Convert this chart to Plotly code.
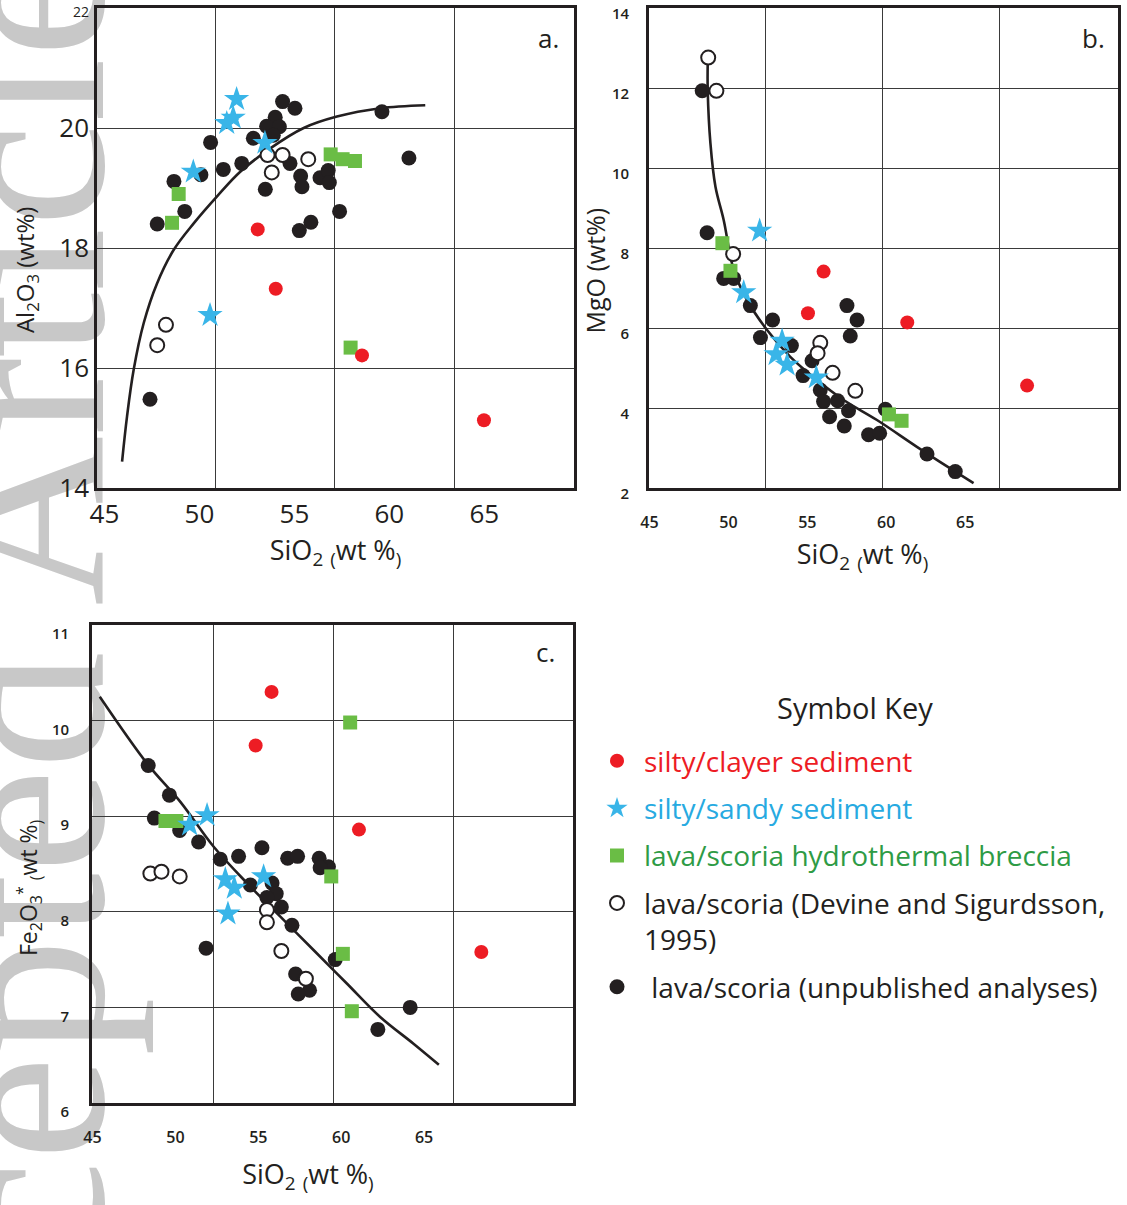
import plotly.graph_objects as go

W, H = 1127, 1205

# ---------------- data: panel a (Al2O3 vs SiO2) ----------------
a_red_x = [53.07, 54.02, 58.56, 64.98]
a_red_y = [18.31, 17.32, 16.21, 15.13]
a_blue_x = [51.96, 51.78, 51.44, 53.45, 49.68, 50.56]
a_blue_y = [20.48, 20.17, 20.08, 19.75, 19.27, 16.88]
a_green_x = [56.91, 57.54, 58.19, 48.91, 48.56, 57.96]
a_green_y = [19.56, 19.48, 19.45, 18.90, 18.42, 16.34]
a_open_x = [53.59, 54.38, 55.73, 53.81, 48.24, 47.78]
a_open_y = [19.55, 19.55, 19.48, 19.26, 16.72, 16.38]
a_black_x = [54.38, 55.03, 59.61, 53.99, 53.54, 54.21, 53.89, 52.84, 50.59, 61.03,
             52.23, 54.77, 51.26, 50.08, 48.66, 55.33, 56.35, 56.78, 56.84, 55.40,
             53.47, 49.23, 47.78, 57.38, 55.87, 55.26, 47.40]
a_black_y = [20.44, 20.33, 20.27, 20.18, 20.03, 20.02, 19.88, 19.83, 19.76, 19.50,
             19.41, 19.41, 19.31, 19.22, 19.11, 19.20, 19.17, 19.29, 19.09, 19.02,
             18.98, 18.61, 18.40, 18.61, 18.43, 18.29, 15.48]
a_curve_x = [45.93, 46.19, 46.54, 47.07, 47.77, 48.65, 49.70, 50.93, 52.15, 53.73,
             55.49, 57.24, 59.52, 61.89]
a_curve_y = [14.44, 15.19, 15.97, 16.75, 17.41, 17.97, 18.41, 18.86, 19.27, 19.66,
             20.00, 20.19, 20.33, 20.38]

# ---------------- data: panel b (MgO vs SiO2) ----------------
b_red_x = [56.03, 55.04, 61.33, 68.92]
b_red_y = [7.41, 6.37, 6.14, 4.56]
b_blue_x = [51.98, 50.97, 53.40, 53.02, 53.72, 55.57]
b_blue_y = [8.43, 6.89, 5.68, 5.34, 5.08, 4.76]
b_green_x = [49.62, 50.13, 60.17, 60.97]
b_green_y = [8.12, 7.43, 3.84, 3.68]
b_open_x = [48.72, 49.24, 50.30, 55.82, 55.65, 56.60, 58.04]
b_open_y = [12.76, 11.93, 7.85, 5.63, 5.37, 4.88, 4.43]
b_black_x = [48.34, 48.65, 49.70, 50.34, 51.39, 52.80, 52.03, 53.99, 57.51, 58.15,
             57.72, 55.30, 54.73, 55.82, 56.03, 56.92, 57.61, 56.41, 57.34, 58.88,
             59.58, 59.94, 62.58, 64.37]
b_black_y = [11.93, 8.38, 7.24, 7.24, 6.56, 6.20, 5.76, 5.56, 6.56, 6.20,
             5.80, 5.18, 4.81, 4.45, 4.16, 4.18, 3.93, 3.78, 3.55, 3.33,
             3.37, 3.97, 2.85, 2.41]
b_curve_x = [48.69, 48.69, 48.86, 49.18, 49.70, 50.34, 51.18, 52.45, 53.92, 55.61,
             57.30, 59.41, 61.94, 64.05, 65.53]
b_curve_y = [12.62, 11.93, 10.62, 9.53, 8.70, 7.45, 6.70, 5.95, 5.28, 4.70,
             4.20, 3.70, 3.03, 2.49, 2.12]

# ---------------- data: panel c (Fe2O3* vs SiO2) ----------------
c_red_x = [55.80, 54.84, 61.07, 68.45]
c_red_y = [10.30, 9.74, 8.86, 7.58]
c_blue_x = [51.91, 50.86, 53.01, 53.55, 55.32, 53.17]
c_blue_y = [9.01, 8.91, 8.34, 8.25, 8.37, 7.98]
c_green_x = [49.40, 50.06, 60.54, 59.40, 60.10, 60.64]
c_green_y = [8.95, 8.95, 9.98, 8.37, 7.56, 6.96]
c_open_x = [48.49, 49.16, 50.26, 55.52, 55.52, 56.39, 57.87]
c_open_y = [8.40, 8.42, 8.37, 8.02, 7.89, 7.59, 7.30]
c_black_x = [48.36, 49.64, 48.73, 50.26, 51.40, 52.71, 53.81, 55.22, 56.77, 57.37,
             58.67, 59.23, 58.73, 54.52, 55.83, 56.08, 55.52, 56.39, 57.03, 51.85,
             59.64, 57.25, 58.09, 57.41, 64.16, 62.21]
c_black_y = [9.53, 9.22, 8.98, 8.85, 8.73, 8.55, 8.58, 8.67, 8.56, 8.58,
             8.56, 8.47, 8.46, 8.28, 8.30, 8.19, 8.15, 8.05, 7.86, 7.62,
             7.50, 7.35, 7.18, 7.14, 7.00, 6.77]
c_curve_x = [45.44, 48.30, 50.30, 52.31, 54.32, 56.33, 58.33, 60.34, 62.35, 64.36, 65.89]
c_curve_y = [10.25, 9.55, 9.15, 8.68, 8.30, 7.95, 7.60, 7.25, 6.90, 6.62, 6.40]

# ---------------- tick labels / grid ----------------
x_tickvals = [45, 50, 55, 60, 65]
x_ticktext = ["45", "50", "55", "60", "65"]
a_ytickvals = [14, 16, 18, 20, 22]
a_yticktext = ["14", "16", "18", "20", "<span style='font-size:14px'>22</span>"]
b_ytickvals = [2, 4, 6, 8, 10, 12, 14]
c_ytickvals = [6, 7, 8, 9, 10, 11]
a_xgrid = [50.87, 57.13, 63.45]
b_xgrid = [52.34, 59.75, 67.15]
c_xgrid = [52.29, 59.52, 66.75]

series_names = [
    "<span style='color:#ed1c24'>silty/clayer sediment</span>",
    "<span style='color:#27aae1'>silty/sandy sediment</span>",
    "<span style='color:#2e9b45'>lava/scoria hydrothermal breccia</span>",
    "lava/scoria (Devine and Sigurdsson,<br>1995)",
    " lava/scoria (unpublished analyses)",
]

FONT = "Open Sans"
INK = "#231f20"
RED, BLUE, GREEN = "#ed1c24", "#39b5e8", "#6abd45"


def pad(n):
    # invisible trailing padding so the centred title sits where the reference has it
    return "\u00a0" * n + "\u200b"


styles = {
    "black": dict(symbol="circle", size=15, color=INK),
    "open": dict(symbol="circle", size=14, color="white", line=dict(color=INK, width=2)),
    "green": dict(symbol="square", size=14, color=GREEN),
    "blue": dict(symbol="star", size=19, color=BLUE),
    "red": dict(symbol="circle", size=14, color=RED),
}
names = {"red": series_names[0], "blue": series_names[1], "green": series_names[2],
         "open": series_names[3], "black": series_names[4]}
ranks = {"red": 1, "blue": 2, "green": 3, "open": 4, "black": 5}

panels = {
    "a": (dict(black=(a_black_x, a_black_y), open=(a_open_x, a_open_y), green=(a_green_x, a_green_y),
               blue=(a_blue_x, a_blue_y), red=(a_red_x, a_red_y)), (a_curve_x, a_curve_y), "x", "y"),
    "b": (dict(black=(b_black_x, b_black_y), open=(b_open_x, b_open_y), green=(b_green_x, b_green_y),
               blue=(b_blue_x, b_blue_y), red=(b_red_x, b_red_y)), (b_curve_x, b_curve_y), "x2", "y2"),
    "c": (dict(black=(c_black_x, c_black_y), open=(c_open_x, c_open_y), green=(c_green_x, c_green_y),
               blue=(c_blue_x, c_blue_y), red=(c_red_x, c_red_y)), (c_curve_x, c_curve_y), "x3", "y3"),
}

fig = go.Figure()
for key, (series, curve, xa, ya) in panels.items():
    fig.add_trace(go.Scatter(x=curve[0], y=curve[1], mode="lines",
                             line=dict(color=INK, width=2.6, shape="spline", smoothing=1.0),
                             xaxis=xa, yaxis=ya, showlegend=False, hoverinfo="skip"))
for key, (series, curve, xa, ya) in panels.items():
    for s in ["black", "open", "green", "blue", "red"]:
        xs, ys = series[s]
        fig.add_trace(go.Scatter(x=xs, y=ys, mode="markers", marker=styles[s],
                                 name=names[s], legendgroup=s, legendrank=ranks[s],
                                 showlegend=(key == "a"), xaxis=xa, yaxis=ya))


def fx(px):
    return px / W


def fy(py):
    return 1 - py / H


frame = dict(showline=True, mirror=True, linecolor=INK, linewidth=2.6, ticks="", zeroline=False,
             automargin=False, fixedrange=True)

SIO2 = "SiO<sub>2</sub> <sub>(</sub>wt %<sub>)</sub>"


def xaxis(dom, rng, gridvals, size, standoff, anchor, title_standoff, npad=0, weight=400):
    return dict(domain=dom, range=rng, tickmode="array", tickvals=x_tickvals, ticktext=x_ticktext,
                showgrid=False, anchor=anchor,
                minor=dict(tickmode="array", tickvals=gridvals, showgrid=True,
                           gridcolor="#3a3a3a", gridwidth=1.2, ticks=""),
                tickfont=dict(family=FONT, size=size, color=INK, weight=weight),
                ticklabelstandoff=standoff,
                title=dict(text=SIO2 + (pad(npad) if npad else ""),
                           font=dict(family=FONT, size=27, color=INK), standoff=title_standoff),
                **frame)


def yaxis(dom, rng, vals, text, size, standoff, anchor, title, title_size, title_standoff, shift=0, weight=400):
    return dict(domain=dom, range=rng, tickmode="array", tickvals=vals, ticktext=text,
                showgrid=True, gridcolor="#3a3a3a", gridwidth=1.2, anchor=anchor,
                tickfont=dict(family=FONT, size=size, color=INK, weight=weight),
                ticklabelstandoff=standoff, ticklabelshift=shift,
                title=dict(text=title, font=dict(family=FONT, size=title_size, color=INK),
                           standoff=title_standoff),
                **frame)


def note(text, px, py, size):
    return dict(text=text, x=fx(px), y=fy(py), xref="paper", yref="paper", showarrow=False,
                xanchor="center", yanchor="middle", font=dict(family=FONT, size=size, color=INK))


fig.update_layout(
    width=W, height=H, margin=dict(l=0, r=0, t=0, b=0, autoexpand=False),
    paper_bgcolor="white", plot_bgcolor="rgba(0,0,0,0)",
    font=dict(family=FONT, color=INK),
    xaxis=xaxis([fx(97), fx(574)], [44.61, 69.72], a_xgrid, 26, 1, "y", 12),
    yaxis=yaxis([fy(488), fy(8)], [14, 22], a_ytickvals, a_yticktext, 26, 0, "x",
                "Al<sub>2</sub>O<sub>3</sub> (wt%)" + pad(7), 24, 18),
    xaxis2=xaxis([fx(649), fx(1118)], [44.97, 74.68], b_xgrid, 16, 18, "y2", 14, 6, 600),
    yaxis2=yaxis([fy(488), fy(8)], [2, 14], b_ytickvals, [str(v) for v in b_ytickvals], 15, 14, "x2",
                 "MgO (wt%)" + pad(7), 25, 0, 6, 600),
    xaxis3=xaxis([fx(92), fx(573)], [44.97, 73.98], c_xgrid, 16, 18, "y3", 19, 7, 600),
    yaxis3=yaxis([fy(1103), fy(625)], [6, 11], c_ytickvals, [str(v) for v in c_ytickvals], 15, 17, "x3",
                 "Fe<sub>2</sub>O<sub>3</sub><sup>*</sup> <sub>(</sub>wt %<sub>)</sub>" + pad(8),
                 23, 8, 9, 600),
    legend=dict(x=fx(590), y=fy(736), xanchor="left", yanchor="top",
                traceorder="grouped", tracegroupgap=8, itemwidth=44, valign="top",
                font=dict(family=FONT, size=28, color=INK), bgcolor="rgba(0,0,0,0)"),
    showlegend=True,
    annotations=[
        note("a.", 548, 38, 26),
        note("b.", 1093, 38, 26),
        note("c.", 545, 652, 26),
        note("Symbol Key", 855, 707, 29),
    ],
    shapes=[
        dict(type="rect", xref="paper", yref="paper", x0=fx(-7), x1=fx(3), y0=fy(751), y1=fy(741),
             line=dict(width=0), fillcolor="rgba(0,0,0,0)", layer="below",
             label=dict(text="Accepted Article", textangle=-90, textposition="middle center",
                        font=dict(family="Liberation Serif", size=235, color="#c8c8c8"))),
    ],
)

fig.write_html("out.html", config={"displayModeBar": False},
               post_script="document.body.style.margin='0';")
